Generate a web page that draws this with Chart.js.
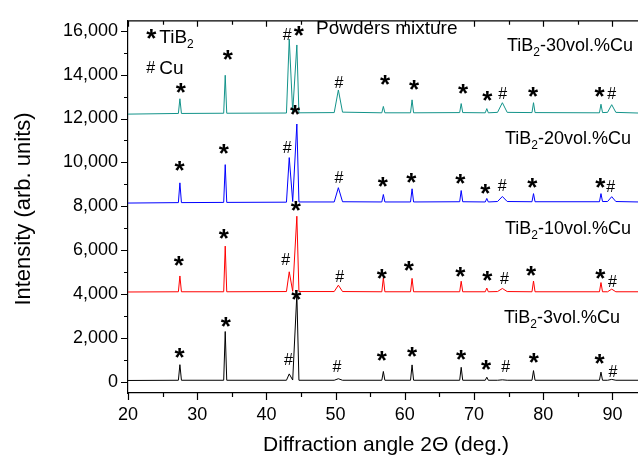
<!DOCTYPE html>
<html>
<head>
<meta charset="utf-8">
<script src="https://cdn.jsdelivr.net/npm/chart.js@4.4.1/dist/chart.umd.min.js"></script>
<style>
  body { margin: 0; background: #fff; }
  canvas { display: block; }
</style>
</head>
<body>
<canvas id="xrdChart" width="638" height="459"></canvas>
<script>
// diffraction angles (deg.) shared by every pattern
let angle = [20, 27.28, 27.5, 27.72, 33.83, 34.05, 34.27, 42.9, 43.3, 43.8, 44.4, 44.7,
  49.8, 50.4, 51.0, 56.68, 56.9, 57.12, 60.83, 61.05, 61.27, 67.93, 68.15, 68.37,
  71.63, 71.85, 72.07, 73.4, 74.1, 74.8, 78.38, 78.6, 78.82, 88.13, 88.35, 88.57,
  89.3, 89.9, 90.5, 93.7];

// intensities (already offset like in the figure)
let cu30 = [12200, 12230, 12900, 12230, 12240, 13970, 12240, 12250, 15620, 12300, 15350, 12260,
  12270, 13300, 12290, 12260, 12550, 12260, 12260, 12850, 12260, 12270, 12680, 12270,
  12260, 12450, 12260, 12280, 12720, 12280, 12270, 12720, 12270, 12260, 12650, 12270,
  12280, 12630, 12280, 12250];
let cu20 = [8150, 8170, 9070, 8170, 8180, 9900, 8180, 8190, 10220, 8220, 11750, 8200,
  8200, 8850, 8210, 8200, 8540, 8200, 8200, 8800, 8200, 8210, 8720, 8210,
  8200, 8360, 8200, 8220, 8450, 8220, 8210, 8580, 8210, 8210, 8580, 8220,
  8220, 8440, 8220, 8200];
let cu10 = [4100, 4110, 4830, 4110, 4110, 6190, 4110, 4120, 5020, 4130, 7550, 4120,
  4120, 4410, 4120, 4110, 4750, 4110, 4110, 4720, 4110, 4110, 4590, 4110,
  4110, 4280, 4110, 4120, 4260, 4120, 4110, 4600, 4110, 4110, 4530, 4110,
  4110, 4230, 4110, 4110];
let cu3 = [70, 80, 790, 80, 80, 2300, 80, 80, 370, 90, 4000, 80,
  80, 150, 80, 80, 480, 80, 80, 780, 80, 80, 670, 80,
  80, 220, 80, 80, 100, 80, 80, 520, 80, 80, 450, 80,
  80, 120, 80, 80];

let seriesNames = ["TiB2-30vol.%Cu", "TiB2-20vol.%Cu", "TiB2-10vol.%Cu", "TiB2-3vol.%Cu"];
let seriesColors = ["#13938a", "#0000ff", "#ff0000", "#000000"];

let xTicks = [20, 30, 40, 50, 60, 70, 80, 90];
let xMinor = [25, 35, 45, 55, 65, 75, 85];
let yTicks = [0, 2000, 4000, 6000, 8000, 10000, 12000, 14000, 16000];
let yMinor = [1000, 3000, 5000, 7000, 9000, 11000, 13000, 15000];

// peak markers, placed in data coordinates
let tibMarks = [
  [27.7, 13390], [34.5, 14880], [44.75, 15990], [57.2, 13760], [61.4, 13510], [68.5, 13360],
  [72.0, 13020], [78.6, 13210], [88.2, 13210],
  [27.5, 9840], [33.9, 10620], [44.2, 12400], [56.9, 9130], [61.0, 9280], [68.1, 9250],
  [71.7, 8790], [78.5, 9060], [88.3, 9060],
  [27.4, 5500], [33.9, 6730], [44.3, 8020], [56.75, 4940], [60.65, 5300], [68.1, 5010],
  [72.0, 4830], [78.3, 5050], [88.3, 4940],
  [27.5, 1340], [34.2, 2750], [44.4, 3960], [56.75, 1190], [61.1, 1370], [68.2, 1220],
  [71.8, 775], [78.7, 1090], [88.2, 1070]
];
let cuMarks = [
  [43.0, 15840], [50.5, 13660], [74.15, 13140], [89.9, 13170],
  [43.0, 10690], [50.5, 9350], [74.1, 8980], [89.75, 8910],
  [42.8, 5600], [50.6, 4830], [74.4, 4750], [90.0, 4600],
  [43.2, 1040], [50.2, 745], [74.6, 745], [90.1, 520]
];
// left edge and baseline of each sample label
let nameSpots = [[74.77, 15070], [74.48, 10840], [74.48, 6735], [74.34, 2700]];

const FONT = "'Liberation Sans', Arial, sans-serif";

// draw a glyph so that its ink is centred on (cx, cy)
function centered(ctx, ch, cx, cy, font) {
  ctx.font = font;
  ctx.textAlign = "left";
  ctx.textBaseline = "alphabetic";
  let m = ctx.measureText(ch);
  ctx.fillText(ch, cx - (m.actualBoundingBoxRight - m.actualBoundingBoxLeft) / 2,
    cy + (m.actualBoundingBoxAscent - m.actualBoundingBoxDescent) / 2);
}

// text with a subscript 2 after "TiB"
function formula(ctx, text, px, py, size) {
  ctx.textAlign = "left";
  ctx.textBaseline = "alphabetic";
  let parts = text.split("TiB2");
  let x = px;
  if (text.startsWith("TiB2")) {
    ctx.font = size + "px " + FONT;
    ctx.fillText("TiB", x, py);
    x += ctx.measureText("TiB").width;
    ctx.font = Math.round(size * 0.65) + "px " + FONT;
    ctx.fillText("2", x, py + 5);
    x += ctx.measureText("2").width;
    ctx.font = size + "px " + FONT;
    ctx.fillText(parts[1], x, py);
  } else {
    ctx.font = size + "px " + FONT;
    ctx.fillText(text, x, py);
  }
}

const overlay = {
  id: "overlay",
  afterDatasetsDraw(chart) {
    let { ctx, chartArea: a, scales: { x, y } } = chart;
    ctx.save();
    ctx.strokeStyle = "#000";
    ctx.lineWidth = 1.2;
    ctx.beginPath();
    ctx.moveTo(a.left, a.top);
    ctx.lineTo(a.right, a.top);
    xTicks.forEach(v => {
      let p = Math.round(x.getPixelForValue(v)) + 0.5;
      ctx.moveTo(p, a.bottom); ctx.lineTo(p, a.bottom + 7);
      ctx.moveTo(p, a.top); ctx.lineTo(p, a.top + 6);
    });
    xMinor.forEach(v => {
      let p = Math.round(x.getPixelForValue(v)) + 0.5;
      ctx.moveTo(p, a.bottom); ctx.lineTo(p, a.bottom + 4);
      ctx.moveTo(p, a.top); ctx.lineTo(p, a.top + 4);
    });
    yTicks.forEach(v => {
      let p = Math.round(y.getPixelForValue(v)) + 0.5;
      ctx.moveTo(a.left - 7, p); ctx.lineTo(a.left, p);
    });
    yMinor.forEach(v => {
      let p = Math.round(y.getPixelForValue(v)) + 0.5;
      ctx.moveTo(a.left - 4, p); ctx.lineTo(a.left, p);
    });
    ctx.stroke();

    ctx.fillStyle = "#000";
    tibMarks.forEach(m => centered(ctx, "*", x.getPixelForValue(m[0]), y.getPixelForValue(m[1]), "bold 26px " + FONT));
    cuMarks.forEach(m => centered(ctx, "#", x.getPixelForValue(m[0]), y.getPixelForValue(m[1]), "16px " + FONT));

    // legend of symbols
    centered(ctx, "*", x.getPixelForValue(23.42), y.getPixelForValue(15865), "bold 26px " + FONT);
    formula(ctx, "TiB2", x.getPixelForValue(24.52), y.getPixelForValue(15440), 19);
    centered(ctx, "#", x.getPixelForValue(23.3), y.getPixelForValue(14330), "16px " + FONT);
    formula(ctx, "Cu", x.getPixelForValue(24.52), y.getPixelForValue(14030), 19);
    formula(ctx, "Powders mixture", x.getPixelForValue(47.17), y.getPixelForValue(15870), 19);

    seriesNames.forEach((n, i) => {
      formula(ctx, n, x.getPixelForValue(nameSpots[i][0]), y.getPixelForValue(nameSpots[i][1]), 18);
    });

    // axis titles
    ctx.font = "21px " + FONT;
    ctx.textAlign = "center";
    ctx.textBaseline = "middle";
    ctx.fillText("Diffraction angle 2\u0398 (deg.)", (a.left + a.right) / 2 + 3, 445);
    ctx.translate(24, 209);
    ctx.rotate(-Math.PI / 2);
    ctx.font = "22px " + FONT;
    ctx.fillText("Intensity (arb. units)", 0, 0);
    ctx.restore();
  }
};

let allSeries = [cu30, cu20, cu10, cu3];

let chart = new Chart(document.getElementById("xrdChart").getContext("2d"), {
  type: "line",
  data: {
    datasets: allSeries.map((vals, i) => ({
      label: seriesNames[i],
      data: angle.map((a, j) => ({ x: a, y: vals[j] })),
      borderColor: seriesColors[i],
      borderWidth: 1,
      pointRadius: 0,
      tension: 0,
      fill: false
    }))
  },
  options: {
    responsive: false,
    animation: false,
    layout: { padding: { top: 12, right: 0, left: 0, bottom: 0 } },
    plugins: { legend: { display: false }, tooltip: { enabled: false } },
    scales: {
      x: {
        type: "linear",
        min: 20,
        max: 93.7,
        afterBuildTicks: s => { s.ticks = xTicks.map(v => ({ value: v })); },
        afterFit: s => { s.height = 66; },
        grid: { display: false, drawTicks: false },
        border: { display: true, color: "#000", width: 1.2 },
        ticks: { color: "#000", font: { family: FONT, size: 18 }, padding: 11, maxRotation: 0, autoSkip: false }
      },
      y: {
        min: -500,
        max: 16450,
        afterBuildTicks: s => { s.ticks = yTicks.map(v => ({ value: v })); },
        afterFit: s => { s.width = 128; },
        grid: { display: false, drawTicks: false },
        border: { display: true, color: "#000", width: 1.2 },
        ticks: {
          color: "#000", font: { family: FONT, size: 18 }, padding: 10, autoSkip: false,
          callback: v => v.toLocaleString("en-US")
        }
      }
    }
  },
  plugins: [overlay]
});
</script>
</body>
</html>
